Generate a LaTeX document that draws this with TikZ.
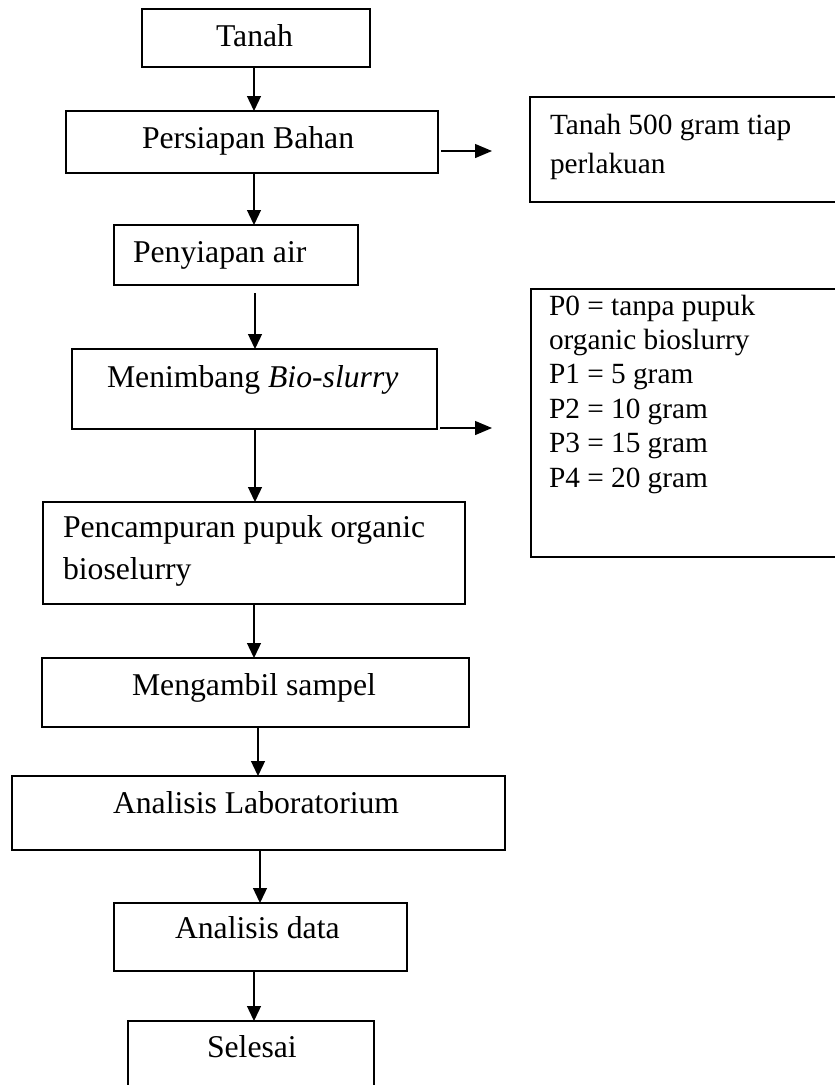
\documentclass[tikz,border=0pt]{standalone}
\usepackage{fontspec}
\setmainfont{Liberation Serif}
\usetikzlibrary{arrows.meta}
\begin{document}
\begin{tikzpicture}[x=1pt,y=-1pt,
  box/.style={draw, line width=1.4pt, rectangle, inner sep=0pt, outer sep=0pt},
  lbl/.style={anchor=base west, inner sep=0pt, outer sep=0pt, font=\fontsize{31.7}{36}\selectfont},
  rlbl/.style={anchor=base west, inner sep=0pt, outer sep=0pt, font=\fontsize{29.3}{34.4}\selectfont},
  varr/.style={line width=1.3pt, -{Triangle[length=15pt,width=14pt]}},
  harr/.style={line width=1.3pt, -{Triangle[length=17pt,width=14pt]}, shorten <=3pt},
]
\clip (0,0) rectangle (835,1085);
\useasboundingbox (0,0) rectangle (835,1085);

% boxes
\node[box, minimum width=228pt, minimum height=58pt] (tanah) at (256,38) {};
\node[box, minimum width=372pt, minimum height=62pt] (persiapan) at (252,142) {};
\node[box, minimum width=340pt, minimum height=105pt] (t500) at (700,149.5) {};
\node[box, minimum width=244pt, minimum height=60pt] (penyiapan) at (236,255) {};
\node[box, minimum width=365pt, minimum height=80pt] (menimbang) at (254.5,389) {};
\node[box, minimum width=340pt, minimum height=268pt] (dosis) at (701,423) {};
\node[box, minimum width=422pt, minimum height=102pt] (pencampuran) at (254,553) {};
\node[box, minimum width=427pt, minimum height=69pt] (mengambil) at (255.5,692.5) {};
\node[box, minimum width=493pt, minimum height=74pt] (lab) at (258.5,813) {};
\node[box, minimum width=293pt, minimum height=68pt] (data) at (260.5,937) {};
\node[box, minimum width=246pt, minimum height=79pt] (selesai) at (251,1060.5) {};

% texts
\node[lbl] (tTanah) at (216,46) {Tanah};
\node[lbl] (tPersiapan) at (142,148) {Persiapan Bahan};
\node[rlbl] (tT500a) at (550,134) {Tanah 500 gram tiap};
\node[rlbl] (tT500b) at (550,173) {perlakuan};
\node[lbl] (tPenyiapan) at (133,262) {Penyiapan air};
\node[lbl] (tMenimbang) at (107,387) {Menimbang \textit{Bio-slurry}};
\node[rlbl] (tP0a) at (549,315) {P0 = tanpa pupuk};
\node[rlbl] (tP0b) at (549,349.4) {organic bioslurry};
\node[rlbl] (tP1) at (549,383.8) {P1 = 5 gram};
\node[rlbl] (tP2) at (549,418.2) {P2 = 10 gram};
\node[rlbl] (tP3) at (549,452.6) {P3 = 15 gram};
\node[rlbl] (tP4) at (549,487) {P4 = 20 gram};
\node[lbl] (tPencA) at (63,537) {Pencampuran pupuk organic};
\node[lbl] (tPencB) at (63,579) {bioselurry};
\node[lbl] (tMengambil) at (132,695) {Mengambil sampel};
\node[lbl] (tLab) at (113,813) {Analisis Laboratorium};
\node[lbl] (tData) at (175,938) {Analisis data};
\node[lbl] (tSelesai) at (207,1057) {Selesai};

% x positions of vertical arrows
\coordinate (x254) at (254,0);
\coordinate (x255) at (255,0);
\coordinate (x258) at (258,0);
\coordinate (x260) at (260,0);

\draw[varr] (x254 |- tanah.south) -- (x254 |- persiapan.north);
\draw[varr] (x254 |- persiapan.south) -- (x254 |- penyiapan.north);
\draw[varr, shorten <=8pt] (x255 |- penyiapan.south) -- (x255 |- menimbang.north);
\draw[varr] (x255 |- menimbang.south) -- (x255 |- pencampuran.north);
\draw[varr] (x254 |- pencampuran.south) -- (x254 |- mengambil.north);
\draw[varr] (x258 |- mengambil.south) -- (x258 |- lab.north);
\draw[varr] (x260 |- lab.south) -- (x260 |- data.north);
\draw[varr] (x254 |- data.south) -- (x254 |- selesai.north);

% horizontal arrows
\coordinate (h1) at (492,151);
\coordinate (h2) at (492,428);
\draw[harr] (persiapan.east |- h1) -- (h1);
\draw[harr] (menimbang.east |- h2) -- (h2);
\end{tikzpicture}
\end{document}
